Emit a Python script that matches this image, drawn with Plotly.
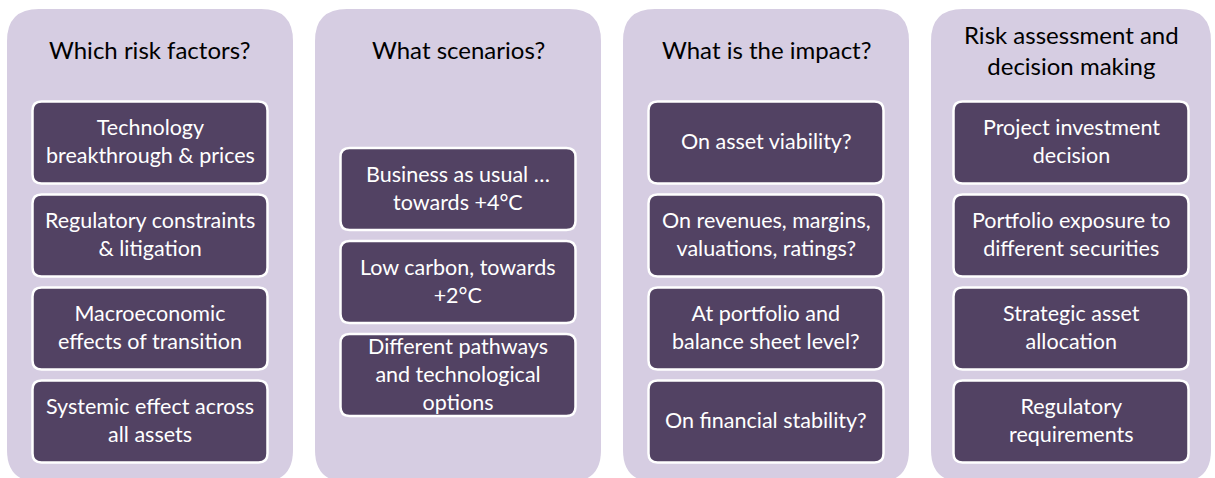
import plotly.graph_objects as go

titles = ["Which risk factors?", "What scenarios?", "What is the impact?",
          "Risk assessment and<br>decision making"]
items = [
    ["Technology<br>breakthrough & prices", "Regulatory constraints<br>& litigation",
     "Macroeconomic<br>effects of transition", "Systemic effect across<br>all assets"],
    ["Business as usual …<br>towards +4°C", "Low carbon, towards<br>+2°C",
     "Different pathways<br>and technological<br>options"],
    ["On asset viability?", "On revenues, margins,<br>valuations, ratings?",
     "At portfolio and<br>balance sheet level?", "On financial stability?"],
    ["Project investment<br>decision", "Portfolio exposure to<br>different securities",
     "Strategic asset<br>allocation", "Regulatory<br>requirements"],
]

W, H = 1215, 478
PANEL_FILL = "#D6CDE2"
BOX_FILL = "#524263"
FONT = "Lato"
TITLE_SIZE, ITEM_SIZE = 24, 21.5

panel_x = [(7, 293), (315, 601), (623, 909), (931, 1211)]
panel_top, panel_bot = 9, 482
box_w, box_h, pitch, group_center = 235, 82, 93, 282
title_center = 51.5


def rrect(x0, y0, x1, y1, r):
    return (f"M{x0+r},{y0} L{x1-r},{y0} Q{x1},{y0} {x1},{y0+r} "
            f"L{x1},{y1-r} Q{x1},{y1} {x1-r},{y1} L{x0+r},{y1} "
            f"Q{x0},{y1} {x0},{y1-r} L{x0},{y0+r} Q{x0},{y0} {x0+r},{y0} Z")


def add_text(anns, text, cx, cy, size, color):
    anns.append(dict(x=cx, y=cy - size * 0.07, text=text, showarrow=False,
                     xanchor="center", yanchor="middle", align="center",
                     font=dict(family=FONT, size=size, color=color)))


fig = go.Figure()
fig.add_trace(go.Scatter(x=[0, W], y=[0, H], mode="markers",
                         marker=dict(opacity=0), hoverinfo="skip", showlegend=False))

shapes, annotations = [], []
for i, (title, its) in enumerate(zip(titles, items)):
    x0, x1 = panel_x[i]
    shapes.append(dict(type="path", path=rrect(x0, panel_top, x1, panel_bot, 32),
                       fillcolor=PANEL_FILL, line=dict(width=0), layer="below"))
    cx = (x0 + x1) / 2
    add_text(annotations, title, cx, title_center, TITLE_SIZE, "#000000")
    n = len(its)
    start = group_center - (n - 1) * pitch / 2
    for j, t in enumerate(its):
        cy = start + j * pitch
        bx0, bx1 = cx - box_w / 2, cx + box_w / 2
        by0, by1 = cy - box_h / 2, cy + box_h / 2
        shapes.append(dict(type="path", path=rrect(bx0, by0, bx1, by1, 9),
                           fillcolor=BOX_FILL, line=dict(color="#FFFFFF", width=2.5)))
        add_text(annotations, t, cx, cy, ITEM_SIZE, "#FFFFFF")

fig.update_layout(
    width=W, height=H, margin=dict(l=0, r=0, t=0, b=0),
    paper_bgcolor="#FFFFFF", plot_bgcolor="#FFFFFF",
    xaxis=dict(range=[0, W], visible=False, fixedrange=True),
    yaxis=dict(range=[H, 0], visible=False, fixedrange=True),
    shapes=shapes, annotations=annotations, showlegend=False,
)
fig.write_html("out.html", config={"displayModeBar": False},
               post_script="document.body.style.margin='0';")
